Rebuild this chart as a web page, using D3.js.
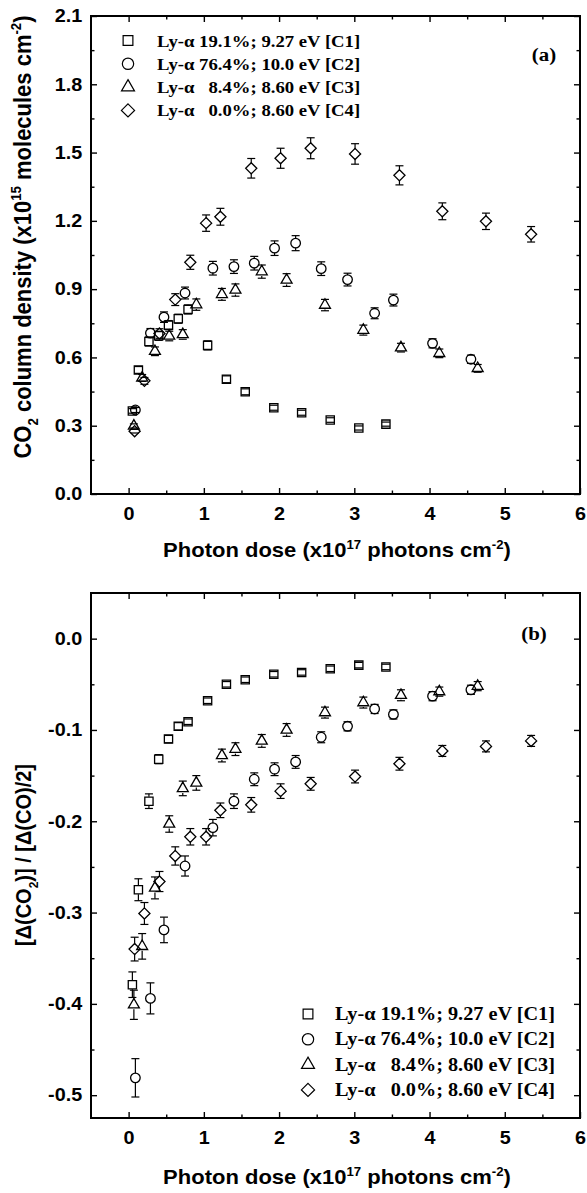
<!DOCTYPE html>
<html>
<head>
<meta charset="utf-8">
<script src="https://cdn.jsdelivr.net/npm/d3@7"></script>
<style>
  body { margin: 0; background: #fff; }
  svg { display: block; }
  .axis path { display: none; }
  .axis line { stroke: #000; stroke-width: 1.4px; }
  .axis text { font-family: "Liberation Sans", Arial, sans-serif; font-weight: bold; font-size: 18px; fill: #000; }
  .title { font-family: "Liberation Sans", Arial, sans-serif; font-weight: bold; fill: #000; }
  .legend text, .tag { font-family: "Liberation Serif", "Times New Roman", serif; font-weight: bold; fill: #000; white-space: pre; }
</style>
</head>
<body>
<svg id="drawing_region"></svg>
<script>
// photon dose (x10^17 photons cm^-2), one list per experiment
const dose_c1 = [0.05, 0.13, 0.27, 0.40, 0.53, 0.66, 0.79, 1.05, 1.30, 1.55, 1.93, 2.30, 2.68, 3.06, 3.42];
const dose_c2 = [0.09, 0.29, 0.47, 0.75, 1.12, 1.40, 1.67, 1.94, 2.22, 2.56, 2.91, 3.27, 3.52, 4.04, 4.55];
const dose_c3 = [0.07, 0.18, 0.35, 0.54, 0.72, 0.90, 1.24, 1.42, 1.77, 2.10, 2.61, 3.12, 3.62, 4.13, 4.64];
const dose_c4 = [0.08, 0.21, 0.41, 0.62, 0.82, 1.03, 1.22, 1.63, 2.02, 2.42, 3.01, 3.60, 4.17, 4.75, 5.35];

// (a) CO2 column density (x10^15 molecules cm^-2)
const dens_c1 = [0.365, 0.545, 0.670, 0.695, 0.742, 0.770, 0.811, 0.653, 0.504, 0.449, 0.379, 0.357, 0.325, 0.290, 0.307];
const dens_c2 = [0.369, 0.707, 0.777, 0.883, 0.992, 0.999, 1.014, 1.080, 1.102, 0.990, 0.942, 0.794, 0.852, 0.662, 0.592];
const dens_c3 = [0.299, 0.510, 0.627, 0.694, 0.701, 0.832, 0.877, 0.896, 0.977, 0.940, 0.830, 0.720, 0.643, 0.618, 0.552];
const dens_c4 = [0.276, 0.497, 0.705, 0.854, 1.018, 1.190, 1.218, 1.431, 1.475, 1.519, 1.494, 1.400, 1.242, 1.198, 1.141];
const dens_err_c1 = [0.010, 0.015, 0.020, 0.020, 0.020, 0.020, 0.020, 0.020, 0.015, 0.013, 0.011, 0.011, 0.010, 0.009, 0.009];
const dens_err_c2 = [0.011, 0.020, 0.023, 0.026, 0.030, 0.030, 0.030, 0.032, 0.033, 0.030, 0.028, 0.024, 0.026, 0.020, 0.018];
const dens_err_c3 = [0.009, 0.015, 0.019, 0.021, 0.021, 0.025, 0.026, 0.027, 0.029, 0.028, 0.025, 0.022, 0.019, 0.019, 0.017];
const dens_err_c4 = [0.008, 0.015, 0.021, 0.026, 0.031, 0.036, 0.037, 0.043, 0.044, 0.046, 0.045, 0.042, 0.037, 0.036, 0.034];

// (b) [d(CO2)] / [d(CO)/2]
const ratio_c1 = [-0.379, -0.275, -0.178, -0.132, -0.110, -0.096, -0.091, -0.068, -0.050, -0.045, -0.039, -0.037, -0.033, -0.029, -0.031];
const ratio_c2 = [-0.481, -0.394, -0.319, -0.249, -0.207, -0.178, -0.154, -0.143, -0.135, -0.108, -0.096, -0.077, -0.083, -0.063, -0.056];
const ratio_c3 = [-0.401, -0.337, -0.273, -0.203, -0.164, -0.158, -0.128, -0.121, -0.112, -0.100, -0.081, -0.070, -0.062, -0.058, -0.052];
const ratio_c4 = [-0.340, -0.301, -0.266, -0.238, -0.217, -0.217, -0.188, -0.182, -0.167, -0.159, -0.151, -0.137, -0.123, -0.118, -0.112];
const ratio_err_c1 = [0.014, 0.012, 0.008, 0.005, 0.004, 0.004, 0.003, 0.003, 0.003, 0.003, 0.003, 0.003, 0.003, 0.003, 0.003];
const ratio_err_c2 = [0.021, 0.017, 0.014, 0.011, 0.009, 0.008, 0.007, 0.007, 0.007, 0.006, 0.005, 0.005, 0.005, 0.005, 0.005];
const ratio_err_c3 = [0.016, 0.014, 0.012, 0.009, 0.008, 0.008, 0.007, 0.007, 0.007, 0.007, 0.006, 0.006, 0.006, 0.005, 0.005];
const ratio_err_c4 = [0.013, 0.012, 0.011, 0.010, 0.009, 0.009, 0.008, 0.008, 0.008, 0.007, 0.007, 0.007, 0.006, 0.006, 0.006];

const legend_labels = [
  'Ly-\u03b1 19.1%; 9.27 eV [C1]',
  'Ly-\u03b1 76.4%; 10.0 eV [C2]',
  'Ly-\u03b1   8.4%; 8.60 eV [C3]',
  'Ly-\u03b1   0.0%; 8.60 eV [C4]'
];

const x_ticks = [0, 1, 2, 3, 4, 5, 6];
const x_minor = [0.5, 1.5, 2.5, 3.5, 4.5, 5.5];
const y_ticks_a = [0.0, 0.3, 0.6, 0.9, 1.2, 1.5, 1.8, 2.1];
const y_minor_a = [0.15, 0.45, 0.75, 1.05, 1.35, 1.65, 1.95];
const y_ticks_b = [-0.5, -0.4, -0.3, -0.2, -0.1, 0.0];
const y_minor_b = [-0.45, -0.35, -0.25, -0.15, -0.05];

const SX = 1.1;   // the source figure is a little wider than tall

const diamond = {
  draw(ctx, size) {
    const r = Math.sqrt(size / 2);
    ctx.moveTo(0, -r); ctx.lineTo(r, 0); ctx.lineTo(0, r); ctx.lineTo(-r, 0); ctx.closePath();
  }
};

const series = [
  {symbol: d3.symbolSquare, size: 68, dose: dose_c1, a: dens_c1, a_err: dens_err_c1, b: ratio_c1, b_err: ratio_err_c1},
  {symbol: d3.symbolCircle, size: 72, dose: dose_c2, a: dens_c2, a_err: dens_err_c2, b: ratio_c2, b_err: ratio_err_c2},
  {symbol: d3.symbolTriangle, size: 52, dose: dose_c3, a: dens_c3, a_err: dens_err_c3, b: ratio_c3, b_err: ratio_err_c3},
  {symbol: diamond, size: 62, dose: dose_c4, a: dens_c4, a_err: dens_err_c4, b: ratio_c4, b_err: ratio_err_c4}
];

const svg = d3.select('#drawing_region').attr('width', 587).attr('height', 1193);

class DosePanel {

  constructor( config ) {
    this.config = {
      left: 91, right: 580,
      top: config.top, bottom: config.bottom,
      ydomain: config.ydomain,
      yticks: config.yticks, yminor: config.yminor,
      key: config.key,
      ytitle: config.ytitle, ytitle_size: config.ytitle_size, ytitle_y: config.ytitle_y,
      xtitle_y: config.xtitle_y,
      tag: config.tag, tag_x: config.tag_x, tag_y: config.tag_y,
      legend: config.legend
    };
    this.init();
    this.render();
  }

  init() {
    let self = this;
    const c = self.config;
    self.chart = svg.append('g');

    self.xscale = d3.scaleLinear().domain([-0.5, 6]).range([c.left, c.right]);
    self.yscale = d3.scaleLinear().domain(c.ydomain).range([c.bottom, c.top]);

    const tick = 6, small = 3.5;
    const addAxis = (axis, transform, labels) => {
      const g = self.chart.append('g').attr('class', 'axis')
        .attr('transform', transform)
        .call(axis);
      if (labels) g.selectAll('text').attr('transform', `scale(${SX},1)`);
      else g.selectAll('text').remove();
    };

    // bottom and top
    addAxis(d3.axisBottom(self.xscale).tickValues(x_ticks).tickSize(-tick).tickPadding(13).tickFormat(d3.format('d')),
      `translate(0,${c.bottom})`, true);
    addAxis(d3.axisBottom(self.xscale).tickValues(x_minor).tickSize(-small), `translate(0,${c.bottom})`, false);
    addAxis(d3.axisTop(self.xscale).tickValues(x_ticks.slice(0, -1)).tickSize(-tick), `translate(0,${c.top})`, false);
    addAxis(d3.axisTop(self.xscale).tickValues(x_minor).tickSize(-small), `translate(0,${c.top})`, false);

    // left and right
    addAxis(d3.axisLeft(self.yscale).tickValues(c.yticks).tickSize(-tick).tickPadding(8).tickFormat(d => d.toFixed(1)),
      `translate(${c.left},0)`, true);
    addAxis(d3.axisLeft(self.yscale).tickValues(c.yminor).tickSize(-small), `translate(${c.left},0)`, false);
    addAxis(d3.axisRight(self.yscale).tickValues(c.yticks).tickSize(-tick), `translate(${c.right},0)`, false);
    addAxis(d3.axisRight(self.yscale).tickValues(c.yminor).tickSize(-small), `translate(${c.right},0)`, false);

    self.chart.append('rect')
      .attr('x', c.left).attr('y', c.top)
      .attr('width', c.right - c.left).attr('height', c.bottom - c.top)
      .attr('fill', 'none').attr('stroke', '#000').attr('stroke-width', 2);

    // axis titles
    const xt = self.chart.append('text').attr('class', 'title')
      .attr('font-size', 20)
      .attr('text-anchor', 'middle')
      .attr('transform', `translate(337,${c.xtitle_y}) scale(${SX},1)`);
    rich(xt, [['Photon dose (x10'], ['17', 'sup'], [' photons cm'], ['-2', 'sup'], [')']], 20);

    const yt = self.chart.append('text').attr('class', 'title')
      .attr('font-size', c.ytitle_size)
      .attr('text-anchor', 'middle')
      .attr('transform', `translate(31,${c.ytitle_y}) scale(${SX},1) rotate(-90)`);
    rich(yt, c.ytitle, c.ytitle_size);

    self.chart.append('text').attr('class', 'tag')
      .attr('font-size', 19)
      .attr('text-anchor', 'middle')
      .attr('transform', `translate(${c.tag_x},${c.tag_y}) scale(${SX},1)`)
      .text(c.tag);
  }

  render() {
    let self = this;
    const c = self.config;
    const gap = 4.5, cap = 4;

    series.forEach(s => {
      const pts = d3.zip(s.dose, s[c.key], s[c.key + '_err'])
        .map(([x, v, e]) => ({px: self.xscale(x), py: self.yscale(v), hi: self.yscale(v + e), lo: self.yscale(v - e)}));

      const g = self.chart.append('g').attr('stroke', '#000').attr('stroke-width', 1.2).attr('fill', 'none');

      const bars = g.selectAll('g.err').data(pts).join('g').attr('class', 'err');
      bars.filter(d => d.py - d.hi > gap).append('line')
        .attr('x1', d => d.px).attr('x2', d => d.px)
        .attr('y1', d => d.hi).attr('y2', d => d.py - gap);
      bars.filter(d => d.lo - d.py > gap).append('line')
        .attr('x1', d => d.px).attr('x2', d => d.px)
        .attr('y1', d => d.py + gap).attr('y2', d => d.lo);
      bars.append('line')
        .attr('x1', d => d.px - cap).attr('x2', d => d.px + cap)
        .attr('y1', d => d.hi).attr('y2', d => d.hi);
      bars.append('line')
        .attr('x1', d => d.px - cap).attr('x2', d => d.px + cap)
        .attr('y1', d => d.lo).attr('y2', d => d.lo);

      g.selectAll('path').data(pts).join('path')
        .attr('transform', d => `translate(${d.px},${d.py})`)
        .attr('d', d3.symbol(s.symbol, s.size))
        .attr('stroke-width', 1.3);
    });

    // legend
    const L = c.legend;
    const lg = self.chart.append('g').attr('class', 'legend');
    series.forEach((s, i) => {
      const y = L.y + i * L.dy;
      lg.append('path')
        .attr('transform', `translate(${L.mx},${y - 6})`)
        .attr('d', d3.symbol(s.symbol, s.size * 1.4))
        .attr('fill', 'none').attr('stroke', '#000').attr('stroke-width', 1.2);
      lg.append('text')
        .attr('font-size', L.size)
        .attr('transform', `translate(${L.tx},${y}) scale(${SX},1)`)
        .text(legend_labels[i]);
    });
  }
}

// text with sub/superscripts
function rich(sel, parts, size) {
  let shift = 0;
  parts.forEach(([t, kind]) => {
    const target = kind === 'sup' ? -0.42 * size : kind === 'sub' ? 0.3 * size : 0;
    sel.append('tspan')
      .attr('dy', target - shift)
      .attr('font-size', kind ? size * 0.6 : null)
      .text(t);
    shift = target;
  });
}

new DosePanel({
  top: 16, bottom: 494,
  ydomain: [0, 2.1], yticks: y_ticks_a, yminor: y_minor_a,
  key: 'a',
  ytitle: [['CO'], ['2', 'sub'], [' column density (x10'], ['15', 'sup'], [' molecules cm'], ['-2', 'sup'], [')']],
  ytitle_size: 22, ytitle_y: 237,
  xtitle_y: 557,
  tag: '(a)', tag_x: 544, tag_y: 61,
  legend: {mx: 128, tx: 157, y: 46.5, dy: 23.3, size: 17}
});

new DosePanel({
  top: 593, bottom: 1118,
  ydomain: [-0.525, 0.05], yticks: y_ticks_b, yminor: y_minor_b,
  key: 'b',
  ytitle: [['[\u0394(CO'], ['2', 'sub'], [')] / [\u0394(CO)/2]']],
  ytitle_size: 20, ytitle_y: 855,
  xtitle_y: 1184,
  tag: '(b)', tag_x: 534, tag_y: 640,
  legend: {mx: 308, tx: 335, y: 1020, dy: 25.3, size: 18.4}
});
</script>
</body>
</html>
